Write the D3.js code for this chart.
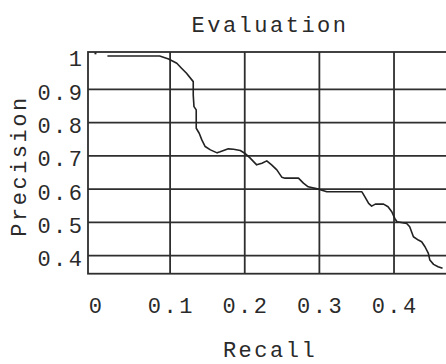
<!DOCTYPE html>
<html>
<head>
<meta charset="utf-8">
<script src="https://cdn.jsdelivr.net/npm/d3@7"></script>
<style>
  html, body { margin: 0; padding: 0; background: #fff; }
  svg { display: block; }
  text { font-family: "Liberation Mono", "DejaVu Sans Mono", monospace; font-size: 22px; letter-spacing: 2.5px; fill: #2a2a2a; }
</style>
</head>
<body>
<svg id="chart" width="446" height="364"></svg>
<script>
// Precision / recall curve
const recall = [0.016, 0.086, 0.098, 0.109, 0.115, 0.122, 0.131, 0.131, 0.132, 0.135, 0.135, 0.139,
  0.1425, 0.147, 0.154, 0.163, 0.167, 0.178, 0.185, 0.194, 0.200, 0.207, 0.216, 0.223, 0.2295,
  0.236, 0.243, 0.2496, 0.254, 0.272, 0.2786, 0.285, 0.299, 0.310, 0.357, 0.361, 0.366, 0.370,
  0.375, 0.386, 0.392, 0.397, 0.401, 0.404, 0.417, 0.421, 0.426, 0.4326, 0.437, 0.4415, 0.446,
  0.448, 0.453, 0.459, 0.465];
const precision = [1.0, 1.0, 0.991, 0.978, 0.964, 0.948, 0.923, 0.883, 0.848, 0.838, 0.783, 0.768,
  0.748, 0.728, 0.718, 0.709, 0.712, 0.721, 0.720, 0.716, 0.708, 0.694, 0.673, 0.678, 0.685,
  0.673, 0.658, 0.636, 0.633, 0.633, 0.618, 0.607, 0.600, 0.592, 0.592, 0.577, 0.557, 0.549,
  0.555, 0.555, 0.547, 0.532, 0.512, 0.502, 0.497, 0.487, 0.457, 0.447, 0.442, 0.427, 0.407,
  0.387, 0.374, 0.367, 0.362];
// isolated first sample at recall 0
const startRecall = [0];
const startPrecision = [1.008];

const xTicks = [0, 0.1, 0.2, 0.3, 0.4];
const xTickLabels = ["0", "0.1", "0.2", "0.3", "0.4"];
const yTicks = [1, 0.9, 0.8, 0.7, 0.6, 0.5, 0.4];
const yTickLabels = ["1", "0.9", "0.8", "0.7", "0.6", "0.5", "0.4"];
const xGrid = [0.1, 0.2, 0.3, 0.4];
const yGrid = [0.9, 0.8, 0.7, 0.6, 0.5, 0.4];

const svg = d3.select("#chart");
const plotLeft = 88, plotRight = 450, plotTop = 52, plotBottom = 273.7;
const ink = "#2e2e2e";

const x = d3.scaleLinear().domain([-0.01, 0.475]).range([plotLeft, plotRight]);
const y = d3.scaleLinear().domain([0.346, 1.012]).range([plotBottom, plotTop]);

// grid
svg.append("g").selectAll("line").data(xGrid).join("line")
  .attr("x1", d => x(d)).attr("x2", d => x(d))
  .attr("y1", plotTop).attr("y2", plotBottom)
  .attr("stroke", ink).attr("stroke-width", 1.8);
svg.append("g").selectAll("line").data(yGrid).join("line")
  .attr("x1", plotLeft).attr("x2", plotRight)
  .attr("y1", d => y(d)).attr("y2", d => y(d))
  .attr("stroke", ink).attr("stroke-width", 1.8);

// frame
svg.append("rect")
  .attr("x", plotLeft).attr("y", plotTop)
  .attr("width", plotRight - plotLeft).attr("height", plotBottom - plotTop)
  .attr("fill", "none").attr("stroke", ink).attr("stroke-width", 1.8);

// curve
const pts = recall.map((r, i) => [r, precision[i]]);
svg.append("path")
  .datum(pts)
  .attr("d", d3.line().x(d => x(d[0])).y(d => y(d[1])))
  .attr("fill", "none").attr("stroke", "#222").attr("stroke-width", 1.6)
  .attr("stroke-linejoin", "round");

svg.append("g").selectAll("rect").data(startRecall.map((r, i) => [r, startPrecision[i]])).join("rect")
  .attr("x", d => x(d[0]) - 1).attr("y", d => y(d[1]) - 1)
  .attr("width", 2).attr("height", 2).attr("fill", "#222");

// y tick labels
svg.append("g").selectAll("text").data(yTicks).join("text")
  .attr("x", 84.5).attr("y", d => y(d) + 10.5)
  .attr("text-anchor", "end")
  .text((d, i) => yTickLabels[i]);

// x tick labels
svg.append("g").selectAll("text").data(xTicks).join("text")
  .attr("x", d => x(d) + 1.2).attr("y", 313)
  .attr("text-anchor", "middle")
  .text((d, i) => xTickLabels[i]);

// titles
svg.append("text").attr("x", 270).attr("y", 32).attr("text-anchor", "middle").text("Evaluation");
svg.append("text").attr("x", 270).attr("y", 357).attr("text-anchor", "middle").text("Recall");
svg.append("text")
  .attr("transform", "translate(26,166) rotate(-90)")
  .attr("text-anchor", "middle").text("Precision");
</script>
</body>
</html>
